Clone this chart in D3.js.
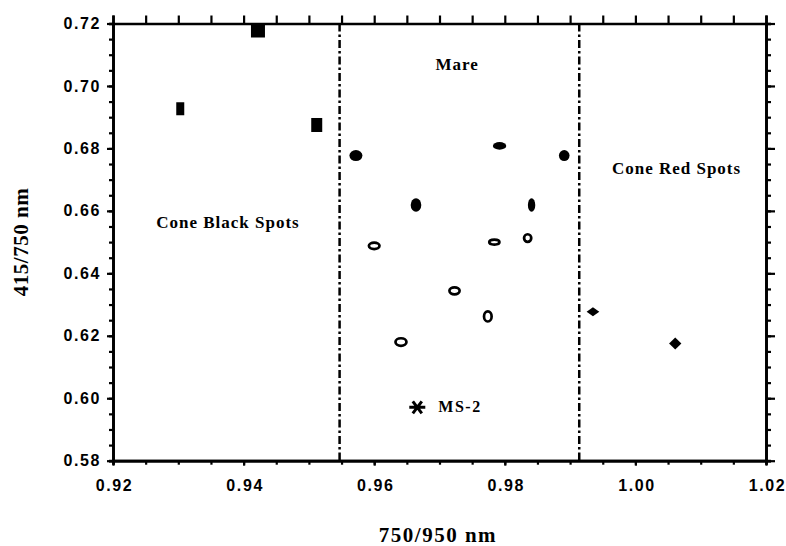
<!DOCTYPE html>
<meta charset="utf-8">
<style>
body { margin: 0; background: #fff; }
.tick text {
  font-family: "Liberation Sans", Arial, sans-serif;
  font-weight: bold;
  font-size: 16px;
  letter-spacing: 1.6px;
  fill: #000;
}
.axis path, .axis line { stroke: #000; }
.lbl {
  font-family: "Liberation Serif", "Times New Roman", serif;
  font-weight: bold;
  fill: #000;
}
</style>
<body>
<script src="https://d3js.org/d3.v7.min.js"></script>
<script>

// values
var blackSpotX = [0.9303, 0.9422, 0.9512],
    blackSpotY = [0.6927, 0.7176, 0.6875];

var mareDarkX = [0.9572, 0.9664, 0.9792, 0.9841, 0.9891],
    mareDarkY = [0.6777, 0.6619, 0.6808, 0.6619, 0.6777];

var mareOpenX = [0.9600, 0.9784, 0.9835, 0.9723, 0.9774, 0.9641],
    mareOpenY = [0.6488, 0.6500, 0.6513, 0.6344, 0.6262, 0.6180];

var redSpotX = [0.9935, 1.0061],
    redSpotY = [0.6277, 0.6175];

var ms2X = [0.9666],
    ms2Y = [0.5971];

var dividerX = [0.9547, 0.9914];

var xTickVals = [0.92, 0.94, 0.96, 0.98, 1.00, 1.02],
    yTickVals = [0.58, 0.60, 0.62, 0.64, 0.66, 0.68, 0.70, 0.72];

var regionNames = ["Mare", "Cone Black Spots", "Cone Red Spots"],
    regionAt = [[0.9727, 0.7051], [0.9376, 0.6545], [1.0063, 0.6717]];

// marker shapes as drawn (px), separate from the data
var squareSize = [[8, 13], [14, 13], [11, 14]];
var darkRadii = [[6.5, 5.5], [5.3, 6.7], [6.7, 3.8], [3.7, 6.7], [5.3, 5.5]];
var openRadii = [[5.3, 3.2], [5.1, 2.5], [3.6, 3.8], [5.1, 3.5], [3.8, 5.1], [5.5, 3.8]];
var diamondSize = [[12.7, 9], [12.3, 12]];

var width = 786,
    height = 546,
    plotL = 113, plotR = 766, plotT = 23.5, plotB = 460.7;

var x = d3.scaleLinear().domain([0.92, 1.02]).range([plotL, plotR]);
var y = d3.scaleLinear().domain([0.58, 0.72]).range([plotB, plotT]);

var svg = d3.select("body").append("svg")
    .attr("width", width)
    .attr("height", height);

var minorX = d3.range(0.92, 1.0201, 0.005),
    minorY = d3.range(0.58, 0.7201, 0.005);

function styleAxis(g) {
  g.attr("class", "axis");
  g.select(".domain").attr("stroke-width", 2.7);
  g.selectAll(".tick line").attr("stroke-width", 2.2);
}

// minor ticks (no labels)
svg.append("g").attr("transform", "translate(0," + plotB + ")")
    .call(d3.axisBottom(x).tickValues(minorX).tickSize(4).tickFormat(""))
    .call(styleAxis);
svg.append("g").attr("transform", "translate(0," + plotT + ")")
    .call(d3.axisTop(x).tickValues(minorX).tickSize(8).tickFormat(""))
    .call(styleAxis);
svg.append("g").attr("transform", "translate(" + plotL + ",0)")
    .call(d3.axisLeft(y).tickValues(minorY).tickSize(4).tickFormat(""))
    .call(styleAxis);
svg.append("g").attr("transform", "translate(" + plotR + ",0)")
    .call(d3.axisRight(y).tickValues(minorY).tickSize(5).tickFormat(""))
    .call(styleAxis);

// major ticks + labels
svg.append("g").attr("transform", "translate(0," + plotB + ")")
    .call(d3.axisBottom(x).tickValues(xTickVals).tickSize(5).tickSizeOuter(0)
      .tickPadding(14).tickFormat(d3.format(".2f")))
    .call(styleAxis)
    .call(function(g) { g.selectAll(".tick text").attr("dx", "1px"); });
svg.append("g").attr("transform", "translate(" + plotL + ",0)")
    .call(d3.axisLeft(y).tickValues(yTickVals).tickSize(6).tickSizeOuter(0)
      .tickPadding(6).tickFormat(d3.format(".2f")))
    .call(styleAxis);
svg.append("g").attr("transform", "translate(" + plotR + ",0)")
    .call(d3.axisRight(y).tickValues(yTickVals).tickSize(9).tickSizeOuter(0).tickFormat(""))
    .call(styleAxis);

// region dividers
svg.append("g").selectAll("line")
    .data(dividerX)
  .enter().append("line")
    .attr("x1", function(d) { return x(d); })
    .attr("x2", function(d) { return x(d); })
    .attr("y1", plotT)
    .attr("y2", plotB)
    .attr("stroke", "#000")
    .attr("stroke-width", 2.5)
    .attr("stroke-dasharray", "8,3,2.5,3");

// cone black spots: filled squares
svg.append("g").selectAll("rect")
    .data(blackSpotX)
  .enter().append("rect")
    .attr("x", function(d, i) { return x(d) - squareSize[i][0] / 2; })
    .attr("y", function(d, i) { return y(blackSpotY[i]) - squareSize[i][1] / 2; })
    .attr("width", function(d, i) { return squareSize[i][0]; })
    .attr("height", function(d, i) { return squareSize[i][1]; })
    .attr("fill", "#000");

// mare: filled ellipses
svg.append("g").selectAll("ellipse")
    .data(mareDarkX)
  .enter().append("ellipse")
    .attr("cx", function(d) { return x(d); })
    .attr("cy", function(d, i) { return y(mareDarkY[i]); })
    .attr("rx", function(d, i) { return darkRadii[i][0]; })
    .attr("ry", function(d, i) { return darkRadii[i][1]; })
    .attr("fill", "#000");

// mare: open ellipses
svg.append("g").selectAll("ellipse")
    .data(mareOpenX)
  .enter().append("ellipse")
    .attr("cx", function(d) { return x(d); })
    .attr("cy", function(d, i) { return y(mareOpenY[i]); })
    .attr("rx", function(d, i) { return openRadii[i][0]; })
    .attr("ry", function(d, i) { return openRadii[i][1]; })
    .attr("fill", "none")
    .attr("stroke", "#000")
    .attr("stroke-width", 2.7);

// cone red spots: diamonds
svg.append("g").selectAll("path")
    .data(redSpotX)
  .enter().append("path")
    .attr("transform", function(d, i) { return "translate(" + x(d) + "," + y(redSpotY[i]) + ")"; })
    .attr("d", function(d, i) {
      var w = diamondSize[i][0] / 2, h = diamondSize[i][1] / 2;
      return "M0," + (-h) + "L" + w + ",0L0," + h + "L" + (-w) + ",0Z";
    })
    .attr("fill", "#000");

// MS-2 asterisk
var ms2 = svg.append("g").selectAll("g")
    .data(ms2X)
  .enter().append("g")
    .attr("transform", function(d, i) { return "translate(" + x(d) + "," + y(ms2Y[i]) + ")"; });
ms2.append("path")
    .attr("d", "M-8,0L8,0M-4.5,-6L4.5,6M-4.5,6L4.5,-6")
    .attr("stroke", "#000")
    .attr("stroke-width", 3);
ms2.append("text")
    .attr("class", "lbl")
    .attr("x", 21)
    .attr("y", 5)
    .style("font-size", "16px")
    .style("letter-spacing", "1.5px")
    .text("MS-2");

// region names
svg.append("g").selectAll("text")
    .data(regionNames)
  .enter().append("text")
    .attr("class", "lbl")
    .attr("x", function(d, i) { return x(regionAt[i][0]); })
    .attr("y", function(d, i) { return y(regionAt[i][1]); })
    .attr("text-anchor", "middle")
    .style("font-size", "17px")
    .style("letter-spacing", "1px")
    .text(function(d) { return d; });

// axis titles
svg.append("text")
    .attr("class", "lbl")
    .attr("x", 438)
    .attr("y", 542)
    .attr("text-anchor", "middle")
    .style("font-size", "21px")
    .style("letter-spacing", "1.5px")
    .text("750/950 nm");

svg.append("text")
    .attr("class", "lbl")
    .attr("transform", "translate(28,242) rotate(-90)")
    .attr("text-anchor", "middle")
    .style("font-size", "21px")
    .style("letter-spacing", "0.5px")
    .text("415/750 nm");

</script>
</body>
